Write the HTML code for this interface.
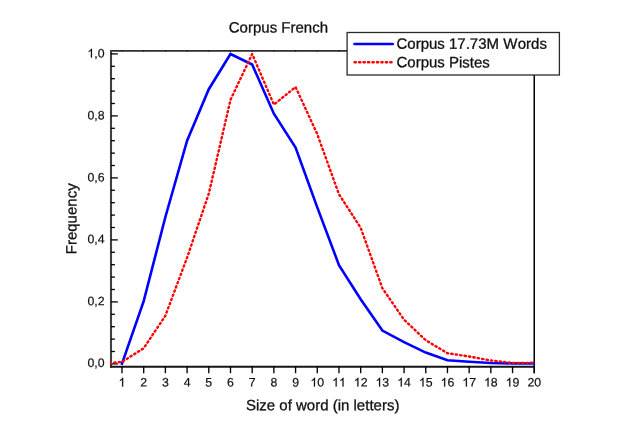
<!DOCTYPE html>
<html><head><meta charset="utf-8"><title>Corpus French</title>
<style>
html,body{margin:0;padding:0;background:#fff;}
svg{display:block;font-family:"Liberation Sans",sans-serif;fill:#111;font-kerning:none;will-change:transform;transform:translateZ(0);}
</style></head>
<body>
<svg width="623" height="440" viewBox="0 0 623 440">
<rect x="0" y="0" width="623" height="440" fill="#fff"/>
<defs><clipPath id="pa"><rect x="110" y="50" width="425" height="317.6"/></clipPath></defs>
<line x1="110" y1="50.9" x2="535" y2="50.9" stroke="#2e2e2e" stroke-width="1.8"/>
<line x1="534.25" y1="50" x2="534.25" y2="373.2" stroke="#000" stroke-width="1.5"/>
<line x1="111" y1="50" x2="111" y2="367.6" stroke="#404040" stroke-width="2.1"/>
<line x1="110" y1="366.75" x2="535" y2="366.75" stroke="#141414" stroke-width="1.8"/>
<line x1="111" y1="363.90" x2="117.8" y2="363.90" stroke="#000" stroke-width="1.3"/>
<line x1="111" y1="351.50" x2="114.9" y2="351.50" stroke="#000" stroke-width="1.3"/>
<line x1="111" y1="339.10" x2="114.9" y2="339.10" stroke="#000" stroke-width="1.3"/>
<line x1="111" y1="326.70" x2="114.9" y2="326.70" stroke="#000" stroke-width="1.3"/>
<line x1="111" y1="314.30" x2="114.9" y2="314.30" stroke="#000" stroke-width="1.3"/>
<line x1="111" y1="301.90" x2="117.8" y2="301.90" stroke="#000" stroke-width="1.3"/>
<line x1="111" y1="289.50" x2="114.9" y2="289.50" stroke="#000" stroke-width="1.3"/>
<line x1="111" y1="277.10" x2="114.9" y2="277.10" stroke="#000" stroke-width="1.3"/>
<line x1="111" y1="264.70" x2="114.9" y2="264.70" stroke="#000" stroke-width="1.3"/>
<line x1="111" y1="252.30" x2="114.9" y2="252.30" stroke="#000" stroke-width="1.3"/>
<line x1="111" y1="239.90" x2="117.8" y2="239.90" stroke="#000" stroke-width="1.3"/>
<line x1="111" y1="227.50" x2="114.9" y2="227.50" stroke="#000" stroke-width="1.3"/>
<line x1="111" y1="215.10" x2="114.9" y2="215.10" stroke="#000" stroke-width="1.3"/>
<line x1="111" y1="202.70" x2="114.9" y2="202.70" stroke="#000" stroke-width="1.3"/>
<line x1="111" y1="190.30" x2="114.9" y2="190.30" stroke="#000" stroke-width="1.3"/>
<line x1="111" y1="177.90" x2="117.8" y2="177.90" stroke="#000" stroke-width="1.3"/>
<line x1="111" y1="165.50" x2="114.9" y2="165.50" stroke="#000" stroke-width="1.3"/>
<line x1="111" y1="153.10" x2="114.9" y2="153.10" stroke="#000" stroke-width="1.3"/>
<line x1="111" y1="140.70" x2="114.9" y2="140.70" stroke="#000" stroke-width="1.3"/>
<line x1="111" y1="128.30" x2="114.9" y2="128.30" stroke="#000" stroke-width="1.3"/>
<line x1="111" y1="115.90" x2="117.8" y2="115.90" stroke="#000" stroke-width="1.3"/>
<line x1="111" y1="103.50" x2="114.9" y2="103.50" stroke="#000" stroke-width="1.3"/>
<line x1="111" y1="91.10" x2="114.9" y2="91.10" stroke="#000" stroke-width="1.3"/>
<line x1="111" y1="78.70" x2="114.9" y2="78.70" stroke="#000" stroke-width="1.3"/>
<line x1="111" y1="66.30" x2="114.9" y2="66.30" stroke="#000" stroke-width="1.3"/>
<line x1="111" y1="53.90" x2="117.8" y2="53.90" stroke="#000" stroke-width="1.3"/>
<line x1="122.00" y1="366" x2="122.00" y2="373.2" stroke="#000" stroke-width="1.35"/>
<line x1="122.00" y1="50.5" x2="122.00" y2="52.0" stroke="#222" stroke-width="1.0"/>
<line x1="143.70" y1="366" x2="143.70" y2="373.2" stroke="#000" stroke-width="1.35"/>
<line x1="143.70" y1="50.5" x2="143.70" y2="52.0" stroke="#222" stroke-width="1.0"/>
<line x1="165.39" y1="366" x2="165.39" y2="373.2" stroke="#000" stroke-width="1.35"/>
<line x1="165.39" y1="50.5" x2="165.39" y2="52.0" stroke="#222" stroke-width="1.0"/>
<line x1="187.09" y1="366" x2="187.09" y2="373.2" stroke="#000" stroke-width="1.35"/>
<line x1="187.09" y1="50.5" x2="187.09" y2="52.0" stroke="#222" stroke-width="1.0"/>
<line x1="208.79" y1="366" x2="208.79" y2="373.2" stroke="#000" stroke-width="1.35"/>
<line x1="208.79" y1="50.5" x2="208.79" y2="52.0" stroke="#222" stroke-width="1.0"/>
<line x1="230.49" y1="366" x2="230.49" y2="373.2" stroke="#000" stroke-width="1.35"/>
<line x1="230.49" y1="50.5" x2="230.49" y2="52.0" stroke="#222" stroke-width="1.0"/>
<line x1="252.18" y1="366" x2="252.18" y2="373.2" stroke="#000" stroke-width="1.35"/>
<line x1="252.18" y1="50.5" x2="252.18" y2="52.0" stroke="#222" stroke-width="1.0"/>
<line x1="273.88" y1="366" x2="273.88" y2="373.2" stroke="#000" stroke-width="1.35"/>
<line x1="273.88" y1="50.5" x2="273.88" y2="52.0" stroke="#222" stroke-width="1.0"/>
<line x1="295.58" y1="366" x2="295.58" y2="373.2" stroke="#000" stroke-width="1.35"/>
<line x1="295.58" y1="50.5" x2="295.58" y2="52.0" stroke="#222" stroke-width="1.0"/>
<line x1="317.28" y1="366" x2="317.28" y2="373.2" stroke="#000" stroke-width="1.35"/>
<line x1="317.28" y1="50.5" x2="317.28" y2="52.0" stroke="#222" stroke-width="1.0"/>
<line x1="338.97" y1="366" x2="338.97" y2="373.2" stroke="#000" stroke-width="1.35"/>
<line x1="338.97" y1="50.5" x2="338.97" y2="52.0" stroke="#222" stroke-width="1.0"/>
<line x1="360.67" y1="366" x2="360.67" y2="373.2" stroke="#000" stroke-width="1.35"/>
<line x1="360.67" y1="50.5" x2="360.67" y2="52.0" stroke="#222" stroke-width="1.0"/>
<line x1="382.37" y1="366" x2="382.37" y2="373.2" stroke="#000" stroke-width="1.35"/>
<line x1="382.37" y1="50.5" x2="382.37" y2="52.0" stroke="#222" stroke-width="1.0"/>
<line x1="404.07" y1="366" x2="404.07" y2="373.2" stroke="#000" stroke-width="1.35"/>
<line x1="404.07" y1="50.5" x2="404.07" y2="52.0" stroke="#222" stroke-width="1.0"/>
<line x1="425.76" y1="366" x2="425.76" y2="373.2" stroke="#000" stroke-width="1.35"/>
<line x1="425.76" y1="50.5" x2="425.76" y2="52.0" stroke="#222" stroke-width="1.0"/>
<line x1="447.46" y1="366" x2="447.46" y2="373.2" stroke="#000" stroke-width="1.35"/>
<line x1="447.46" y1="50.5" x2="447.46" y2="52.0" stroke="#222" stroke-width="1.0"/>
<line x1="469.16" y1="366" x2="469.16" y2="373.2" stroke="#000" stroke-width="1.35"/>
<line x1="469.16" y1="50.5" x2="469.16" y2="52.0" stroke="#222" stroke-width="1.0"/>
<line x1="490.86" y1="366" x2="490.86" y2="373.2" stroke="#000" stroke-width="1.35"/>
<line x1="490.86" y1="50.5" x2="490.86" y2="52.0" stroke="#222" stroke-width="1.0"/>
<line x1="512.55" y1="366" x2="512.55" y2="373.2" stroke="#000" stroke-width="1.35"/>
<line x1="512.55" y1="50.5" x2="512.55" y2="52.0" stroke="#222" stroke-width="1.0"/>
<line x1="534.25" y1="366" x2="534.25" y2="373.2" stroke="#000" stroke-width="1.35"/>
<polyline points="122.00,363.60 143.70,301.10 165.39,217.00 187.09,140.70 208.79,89.20 230.49,54.00 252.18,64.50 273.88,113.70 295.58,147.60 317.28,207.40 338.97,265.10 360.67,299.20 382.37,330.60 404.07,342.20 425.76,352.60 447.46,360.30 469.16,361.70 490.86,363.00 512.55,363.40 534.25,363.50" fill="none" stroke="#0000ff" stroke-width="2.6" stroke-linejoin="miter" stroke-linecap="square" clip-path="url(#pa)"/>
<polyline points="109.85,363.10 122.00,361.90 143.70,348.20 165.39,315.70 187.09,257.60 208.79,193.60 230.49,99.80 252.18,54.00 273.88,104.60 295.58,87.00 317.28,134.20 338.97,194.30 360.67,227.80 382.37,288.20 404.07,319.70 425.76,340.20 447.46,353.20 469.16,356.50 490.86,360.50 512.55,362.90 534.25,362.80" fill="none" stroke="#ff0000" stroke-width="2.4" stroke-dasharray="1.3 3.16" stroke-linecap="round" stroke-linejoin="round" clip-path="url(#pa)"/>
<rect x="347.1" y="32.5" width="212.3" height="42.5" fill="#fff" stroke="#2a2a2a" stroke-width="1.3"/>
<line x1="354.4" y1="44" x2="392.9" y2="44" stroke="#0000ff" stroke-width="2.4" stroke-linecap="round"/>
<line x1="354.6" y1="62.2" x2="392.5" y2="62.2" stroke="#ff0000" stroke-width="2.4" stroke-dasharray="1.3 3.16" stroke-linecap="round"/>
<g fill="#111" stroke="#111" stroke-width="0.3">
<text x="278.40" y="32.50" font-size="15.0" text-anchor="middle" transform="rotate(0.03 278.40 32.50)">Corpus French</text>
<text x="322.70" y="410.30" font-size="15.0" text-anchor="middle" transform="rotate(0.03 322.70 410.30)">Size of word (in letters)</text>
<text transform="translate(76.5,218.8) rotate(-90.03)" font-size="15.0" text-anchor="middle">Frequency</text>
<text x="396.50" y="48.75" font-size="15.0" transform="rotate(0.03 396.50 48.75)">Corpus 17.73M W<tspan dx="0.4">ords</tspan></text>
<text x="396.50" y="67.35" font-size="15.0" transform="rotate(0.03 396.50 67.35)">Corpus Pistes</text>
<text x="87.40" y="367.00" font-size="12.3" stroke-width="0.2" transform="rotate(0.03 87.40 367.00)">0</text><text x="94.24" y="367.00" font-size="12.3" stroke-width="0.2" transform="rotate(0.03 94.24 367.00)">,</text><text x="97.66" y="367.00" font-size="12.3" stroke-width="0.2" transform="rotate(0.03 97.66 367.00)">0</text>
<text x="87.40" y="305.15" font-size="12.3" stroke-width="0.2" transform="rotate(0.03 87.40 305.15)">0</text><text x="94.24" y="305.15" font-size="12.3" stroke-width="0.2" transform="rotate(0.03 94.24 305.15)">,</text><text x="97.66" y="305.15" font-size="12.3" stroke-width="0.2" transform="rotate(0.03 97.66 305.15)">2</text>
<text x="87.40" y="243.30" font-size="12.3" stroke-width="0.2" transform="rotate(0.03 87.40 243.30)">0</text><text x="94.24" y="243.30" font-size="12.3" stroke-width="0.2" transform="rotate(0.03 94.24 243.30)">,</text><text x="97.66" y="243.30" font-size="12.3" stroke-width="0.2" transform="rotate(0.03 97.66 243.30)">4</text>
<text x="87.40" y="181.45" font-size="12.3" stroke-width="0.2" transform="rotate(0.03 87.40 181.45)">0</text><text x="94.24" y="181.45" font-size="12.3" stroke-width="0.2" transform="rotate(0.03 94.24 181.45)">,</text><text x="97.66" y="181.45" font-size="12.3" stroke-width="0.2" transform="rotate(0.03 97.66 181.45)">6</text>
<text x="87.40" y="119.60" font-size="12.3" stroke-width="0.2" transform="rotate(0.03 87.40 119.60)">0</text><text x="94.24" y="119.60" font-size="12.3" stroke-width="0.2" transform="rotate(0.03 94.24 119.60)">,</text><text x="97.66" y="119.60" font-size="12.3" stroke-width="0.2" transform="rotate(0.03 97.66 119.60)">8</text>
<path d="M763 0H583V1147Q518 1085 412 1023Q307 961 223 930V1104Q374 1175 487 1276Q600 1377 647 1472H763Z" transform="translate(87.40 57.60) scale(0.006006 -0.006006)" stroke-width="33.3"/><text x="94.24" y="57.60" font-size="12.3" stroke-width="0.2" transform="rotate(0.03 94.24 57.60)">,</text><text x="97.66" y="57.60" font-size="12.3" stroke-width="0.2" transform="rotate(0.03 97.66 57.60)">0</text>
<path d="M763 0H583V1147Q518 1085 412 1023Q307 961 223 930V1104Q374 1175 487 1276Q600 1377 647 1472H763Z" transform="translate(118.58 386.60) scale(0.006006 -0.006006)" stroke-width="33.3"/>
<text x="140.28" y="386.60" font-size="12.3" stroke-width="0.2" transform="rotate(0.03 140.28 386.60)">2</text>
<text x="161.97" y="386.60" font-size="12.3" stroke-width="0.2" transform="rotate(0.03 161.97 386.60)">3</text>
<text x="183.67" y="386.60" font-size="12.3" stroke-width="0.2" transform="rotate(0.03 183.67 386.60)">4</text>
<text x="205.37" y="386.60" font-size="12.3" stroke-width="0.2" transform="rotate(0.03 205.37 386.60)">5</text>
<text x="227.07" y="386.60" font-size="12.3" stroke-width="0.2" transform="rotate(0.03 227.07 386.60)">6</text>
<text x="248.76" y="386.60" font-size="12.3" stroke-width="0.2" transform="rotate(0.03 248.76 386.60)">7</text>
<text x="270.46" y="386.60" font-size="12.3" stroke-width="0.2" transform="rotate(0.03 270.46 386.60)">8</text>
<text x="292.16" y="386.60" font-size="12.3" stroke-width="0.2" transform="rotate(0.03 292.16 386.60)">9</text>
<path d="M763 0H583V1147Q518 1085 412 1023Q307 961 223 930V1104Q374 1175 487 1276Q600 1377 647 1472H763Z" transform="translate(310.44 386.60) scale(0.006006 -0.006006)" stroke-width="33.3"/><text x="317.28" y="386.60" font-size="12.3" stroke-width="0.2" transform="rotate(0.03 317.28 386.60)">0</text>
<path d="M763 0H583V1147Q518 1085 412 1023Q307 961 223 930V1104Q374 1175 487 1276Q600 1377 647 1472H763Z" transform="translate(332.13 386.60) scale(0.006006 -0.006006)" stroke-width="33.3"/><path d="M763 0H583V1147Q518 1085 412 1023Q307 961 223 930V1104Q374 1175 487 1276Q600 1377 647 1472H763Z" transform="translate(338.97 386.60) scale(0.006006 -0.006006)" stroke-width="33.3"/>
<path d="M763 0H583V1147Q518 1085 412 1023Q307 961 223 930V1104Q374 1175 487 1276Q600 1377 647 1472H763Z" transform="translate(353.83 386.60) scale(0.006006 -0.006006)" stroke-width="33.3"/><text x="360.67" y="386.60" font-size="12.3" stroke-width="0.2" transform="rotate(0.03 360.67 386.60)">2</text>
<path d="M763 0H583V1147Q518 1085 412 1023Q307 961 223 930V1104Q374 1175 487 1276Q600 1377 647 1472H763Z" transform="translate(375.53 386.60) scale(0.006006 -0.006006)" stroke-width="33.3"/><text x="382.37" y="386.60" font-size="12.3" stroke-width="0.2" transform="rotate(0.03 382.37 386.60)">3</text>
<path d="M763 0H583V1147Q518 1085 412 1023Q307 961 223 930V1104Q374 1175 487 1276Q600 1377 647 1472H763Z" transform="translate(397.22 386.60) scale(0.006006 -0.006006)" stroke-width="33.3"/><text x="404.07" y="386.60" font-size="12.3" stroke-width="0.2" transform="rotate(0.03 404.07 386.60)">4</text>
<path d="M763 0H583V1147Q518 1085 412 1023Q307 961 223 930V1104Q374 1175 487 1276Q600 1377 647 1472H763Z" transform="translate(418.92 386.60) scale(0.006006 -0.006006)" stroke-width="33.3"/><text x="425.76" y="386.60" font-size="12.3" stroke-width="0.2" transform="rotate(0.03 425.76 386.60)">5</text>
<path d="M763 0H583V1147Q518 1085 412 1023Q307 961 223 930V1104Q374 1175 487 1276Q600 1377 647 1472H763Z" transform="translate(440.62 386.60) scale(0.006006 -0.006006)" stroke-width="33.3"/><text x="447.46" y="386.60" font-size="12.3" stroke-width="0.2" transform="rotate(0.03 447.46 386.60)">6</text>
<path d="M763 0H583V1147Q518 1085 412 1023Q307 961 223 930V1104Q374 1175 487 1276Q600 1377 647 1472H763Z" transform="translate(462.32 386.60) scale(0.006006 -0.006006)" stroke-width="33.3"/><text x="469.16" y="386.60" font-size="12.3" stroke-width="0.2" transform="rotate(0.03 469.16 386.60)">7</text>
<path d="M763 0H583V1147Q518 1085 412 1023Q307 961 223 930V1104Q374 1175 487 1276Q600 1377 647 1472H763Z" transform="translate(484.01 386.60) scale(0.006006 -0.006006)" stroke-width="33.3"/><text x="490.86" y="386.60" font-size="12.3" stroke-width="0.2" transform="rotate(0.03 490.86 386.60)">8</text>
<path d="M763 0H583V1147Q518 1085 412 1023Q307 961 223 930V1104Q374 1175 487 1276Q600 1377 647 1472H763Z" transform="translate(505.71 386.60) scale(0.006006 -0.006006)" stroke-width="33.3"/><text x="512.55" y="386.60" font-size="12.3" stroke-width="0.2" transform="rotate(0.03 512.55 386.60)">9</text>
<text x="527.41" y="386.60" font-size="12.3" stroke-width="0.2" transform="rotate(0.03 527.41 386.60)">2</text><text x="534.25" y="386.60" font-size="12.3" stroke-width="0.2" transform="rotate(0.03 534.25 386.60)">0</text>
</g>
</svg>
</body></html>
